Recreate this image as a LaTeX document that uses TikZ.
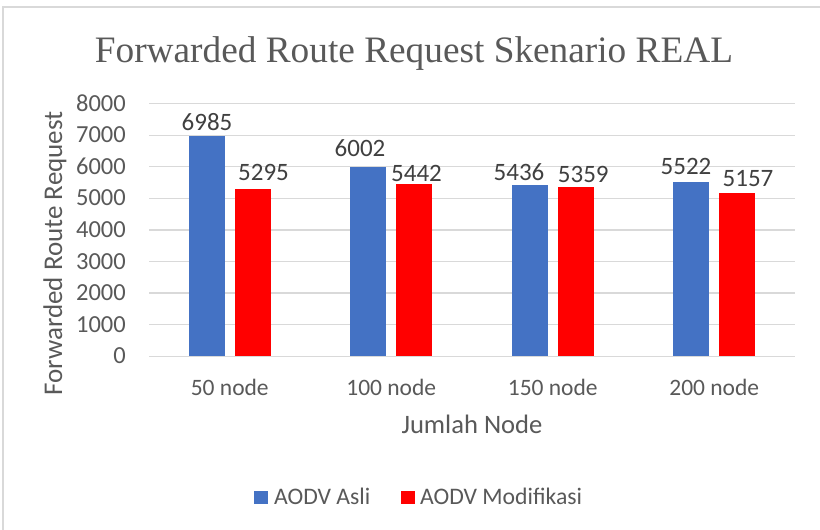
\documentclass[tikz,border=0pt]{standalone}
\usepackage{fontspec}
\setmainfont{Carlito}
\newfontfamily\titlefont{Liberation Serif}
\definecolor{barblue}{HTML}{4472C4}
\definecolor{barred}{HTML}{FF0000}
\definecolor{axistext}{HTML}{595959}
\definecolor{valtext}{HTML}{404040}
\definecolor{gridgray}{HTML}{D9D9D9}
\begin{document}
\begin{tikzpicture}[x=1pt,y=-1pt,
  gridline/.style={draw=gridgray,line width=1.4pt},
  blueBar/.style={fill=barblue,draw=none},
  redBar/.style={fill=barred,draw=none},
  ticklbl/.style={anchor=base east,inner sep=0pt,text=axistext,font=\fontsize{24.5}{24.5}\selectfont},
  catlbl/.style={anchor=base,inner sep=0pt,text=axistext,font=\fontsize{23.5}{23.5}\selectfont},
  vallbl/.style={anchor=base,inner sep=0pt,text=valtext,font=\fontsize{25}{25}\selectfont},
  legendlbl/.style={anchor=base west,inner sep=0pt,text=axistext,font=\fontsize{23.7}{23.7}\selectfont}]
\useasboundingbox (0,0) rectangle (820,530);
\fill[white] (0,0) rectangle (820,530);
% chart area frame (top and left edges)
\draw[gridgray,line width=1.2pt] (3,530) -- (3,7) -- (820,7);

% title
\node[anchor=base,inner sep=0pt,text=axistext,font=\titlefont\fontsize{37.3}{37.3}\selectfont] (title) at (414,62) {Forwarded Route Request Skenario REAL};

% horizontal gridlines and tick labels, 0..8000
\foreach \v [count=\i] in {0,1000,...,8000}{
  \pgfmathsetmacro{\yy}{356.2-\v*0.031575}
  \draw[gridline] (149,\yy) -- (795,\yy);
  \node[ticklbl] (tick\i) at (126,\yy+7.6) {\v};
}

% bars: category centres 229.75, 391.25, 552.75, 714.25
\foreach \c/\a/\b [count=\k] in {229.75/6985/5295, 391.25/6002/5442, 552.75/5436/5359, 714.25/5522/5157}{
  \fill[blueBar] (\c-41,356.2) rectangle (\c-5,356.2-\a*0.031575);
  \fill[redBar] (\c+5,356.2) rectangle (\c+41,356.2-\b*0.031575);
}

% data labels
\node[vallbl] (v1a) at (207,130.5) {6985};
\node[vallbl] (v1b) at (263.5,180) {5295};
\node[vallbl] (v2a) at (360,156) {6002};
\node[vallbl] (v2b) at (416.5,181.5) {5442};
\node[vallbl] (v3a) at (519,180) {5436};
\node[vallbl] (v3b) at (583.3,182) {5359};
\node[vallbl] (v4a) at (686,174) {5522};
\node[vallbl] (v4b) at (748,186) {5157};

% category labels
\node[catlbl] (c1) at (229.75,395.5) {50 node};
\node[catlbl] (c2) at (391.25,395.5) {100 node};
\node[catlbl] (c3) at (552.75,395.5) {150 node};
\node[catlbl] (c4) at (714.25,395.5) {200 node};

% axis titles
\node[anchor=base,inner sep=0pt,text=axistext,font=\fontsize{26.6}{26.6}\selectfont] (xtitle) at (472,433) {Jumlah Node};
\node[anchor=base,inner sep=0pt,rotate=90,text=axistext,font=\fontsize{27}{27}\selectfont] (ytitle) at (62,253.5) {Forwarded Route Request};

% legend
\fill[barblue] (254,490.5) rectangle (267.5,504) coordinate (lgA);
\node[legendlbl] (legA) at (274,504) {AODV Asli};
\fill[barred] (401,490.5) rectangle (414.5,504) coordinate (lgB);
\node[legendlbl] (legB) at (420,504) {AODV Modifikasi};
\end{tikzpicture}
\end{document}
